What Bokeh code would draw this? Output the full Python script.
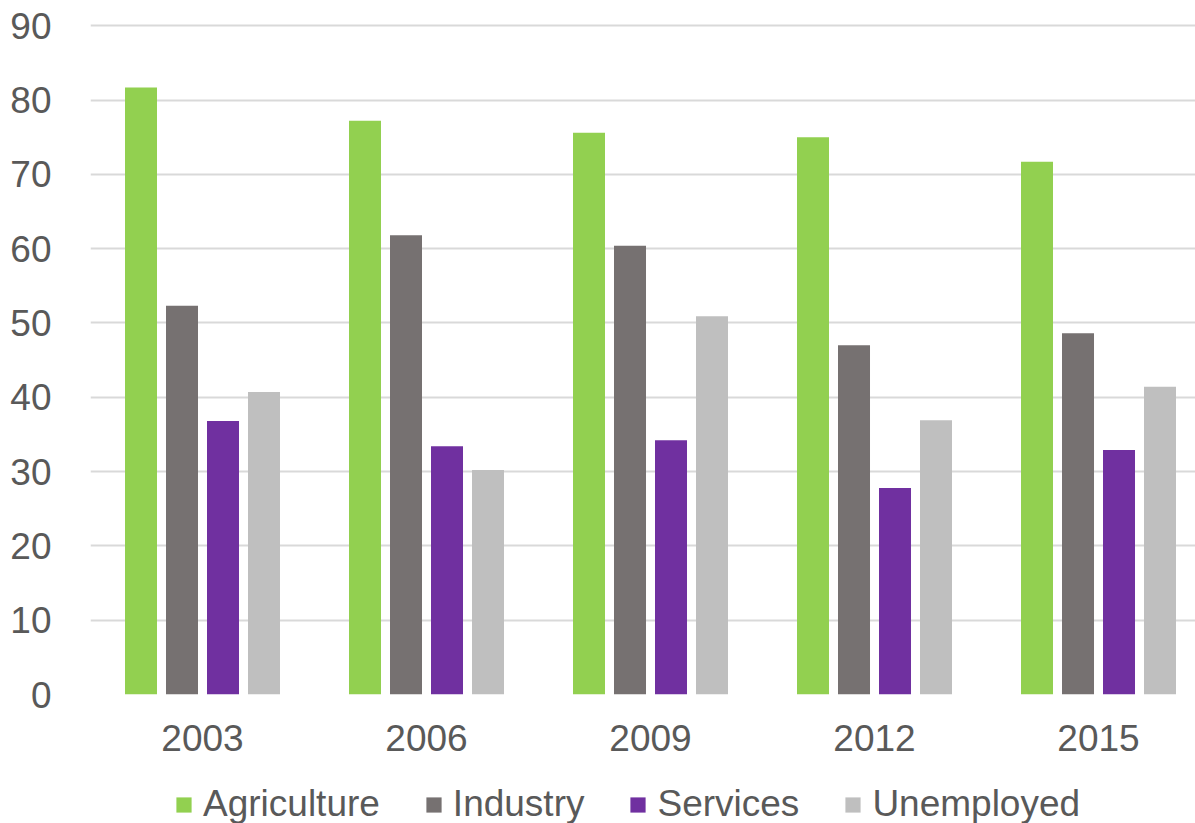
from bokeh.plotting import figure
from bokeh.models import ColumnDataSource, Range1d, Legend, LegendItem, FixedTicker
from bokeh.layouts import column
from bokeh.embed import file_html
from bokeh.resources import INLINE

years = ["2003", "2006", "2009", "2012", "2015"]
series = ["Agriculture", "Industry", "Services", "Unemployed"]
agriculture = [81.7, 77.2, 75.6, 75.0, 71.7]
industry = [52.3, 61.8, 60.4, 47.0, 48.6]
services = [36.8, 33.4, 34.2, 27.8, 32.9]
unemployed = [40.7, 30.2, 50.9, 36.9, 41.4]
y_ticks = [0, 10, 20, 30, 40, 50, 60, 70, 80, 90]

colors = ["#92D050", "#767171", "#7030A0", "#BFBFBF"]
values = [agriculture, industry, services, unemployed]

FONT = "Liberation Sans"
TXT = "#595959"
FS = "37px"

p = figure(width=1195, height=781, output_backend="svg", toolbar_location=None,
           x_range=Range1d(-0.5, 4.433), y_range=Range1d(0, 90.3))
p.frame_width = 1105
p.frame_height = 671
p.min_border_left = 90
p.min_border_right = 0
p.min_border_top = 23
p.min_border_bottom = 87
p.outline_line_color = None

bar_w = 32 / 224
step = 41 / 224
idx = list(range(len(years)))
sources = []
for i, (name, vals, col) in enumerate(zip(series, values, colors)):
    off = (i - 1.5) * step
    src = ColumnDataSource(dict(x=[k + off for k in idx], top=vals))
    sources.append(src)
    p.vbar(x="x", top="top", width=bar_w, bottom=0, source=src,
           fill_color=col, line_color=None)

# axes
p.xaxis.ticker = FixedTicker(ticks=idx)
p.xaxis.major_label_overrides = {k: y for k, y in zip(idx, years)}
p.yaxis.ticker = FixedTicker(ticks=y_ticks)
for ax in (p.xaxis[0], p.yaxis[0]):
    ax.axis_line_color = None
    ax.major_tick_line_color = None
    ax.minor_tick_line_color = None
    ax.major_label_text_font = FONT
    ax.major_label_text_font_size = FS
    ax.major_label_text_color = TXT
p.yaxis.major_label_standoff = 33
p.xaxis.major_label_standoff = 24

p.xgrid.grid_line_color = None
p.ygrid.grid_line_color = "#D9D9D9"
p.ygrid.grid_line_width = 2
p.ygrid.ticker = FixedTicker(ticks=y_ticks)

# legend strip below the chart
p2 = figure(width=1195, height=42, output_backend="svg", toolbar_location=None,
            x_range=Range1d(0, 1), y_range=Range1d(0, 1))
p2.min_border_left = 0
p2.min_border_right = 0
p2.min_border_top = 0
p2.min_border_bottom = 0
p2.outline_line_color = None
p2.axis.visible = False
p2.grid.visible = False
items = []
for name, col, src in zip(series, colors, sources):
    r = p2.vbar(x="x", top="top", width=bar_w, source=src,
                fill_color=col, line_color=None, visible=False)
    items.append(LegendItem(label=name, renderers=[r]))

legend = Legend(items=items, orientation="horizontal", location=(84, -2),
                glyph_width=19, glyph_height=19, label_standoff=10, spacing=44,
                padding=0, margin=0, border_line_color=None,
                background_fill_alpha=0,
                label_text_font=FONT, label_text_font_size=FS,
                label_text_color=TXT)
p2.add_layout(legend, "center")

layout = column(p, p2, spacing=0)
open("out.html", "w").write(file_html(layout, INLINE))
